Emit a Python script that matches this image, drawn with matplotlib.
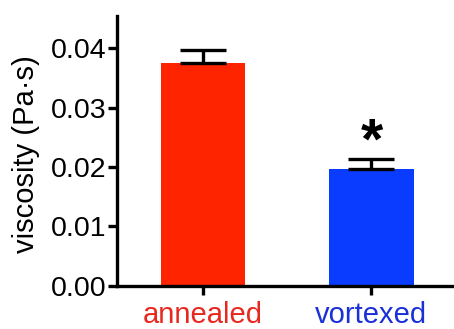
import matplotlib
matplotlib.use("Agg")
import matplotlib.pyplot as plt

categories = ["annealed", "vortexed"]
values = [0.0375, 0.0197]
errors = [0.0022, 0.0016]
bar_colors = ["#FF2400", "#0A3CFF"]
label_colors = ["#E8281E", "#1A30D8"]
yticks = [0.00, 0.01, 0.02, 0.03, 0.04]
ytick_labels = ["0.00", "0.01", "0.02", "0.03", "0.04"]

plt.rcParams['font.family'] = ['Liberation Sans', 'DejaVu Sans']

fig = plt.figure(figsize=(4.54, 3.29), dpi=100)
ax = fig.add_axes([0.258, 0.131, 0.742, 0.82])

x = list(range(len(categories)))
ax.bar(x, values, width=0.5, color=bar_colors, zorder=2)
ax.errorbar(x, values, yerr=[[0, 0], errors], fmt='none', ecolor='black',
            elinewidth=2.4, capsize=16.5, capthick=2.4, zorder=3)

# significance marker
ax.text(1, 0.0214, "*", ha='center', va='baseline',
        fontsize=41, fontweight='bold', color='black')

ax.set_xlim(-0.51, 1.49)
ax.set_ylim(0, 0.0454)
ax.set_yticks(yticks)
ax.set_yticklabels(ytick_labels, fontsize=20.5)
ax.set_xticks(x)
ax.set_xticklabels(categories, fontsize=21)
for lbl, c in zip(ax.get_xticklabels(), label_colors):
    lbl.set_color(c)
ax.set_ylabel("viscosity (Pa·s)", fontsize=21)
ax.yaxis.set_label_coords(-0.228, 0.49)

for s in ['top', 'right']:
    ax.spines[s].set_visible(False)
for s in ['left', 'bottom']:
    ax.spines[s].set_linewidth(2.4)
ax.tick_params(axis='both', width=2.4, length=6.5, direction='out')
ax.tick_params(axis='y', pad=1)
ax.tick_params(axis='x', pad=4.5)

fig.savefig("out.png", dpi=100)
